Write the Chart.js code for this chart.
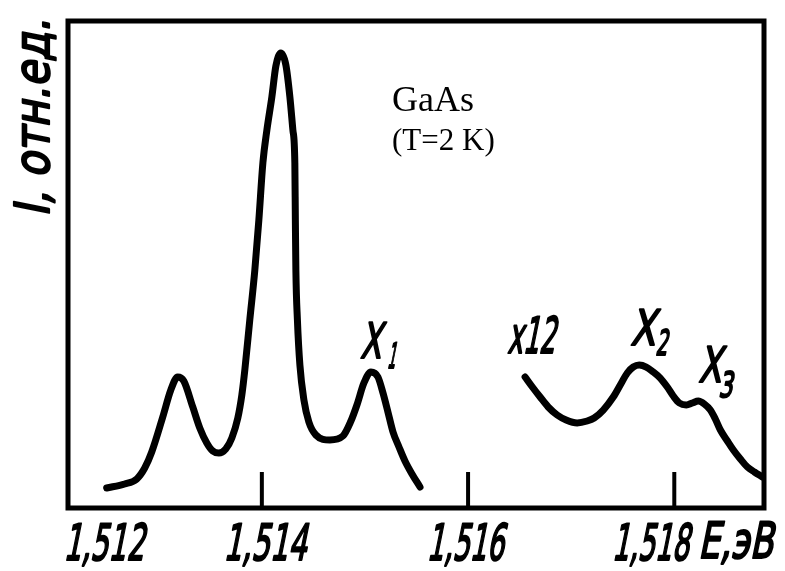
<!DOCTYPE html>
<html>
<head>
<meta charset="utf-8">
<script src="https://cdn.jsdelivr.net/npm/chart.js@4.4.1/dist/chart.umd.min.js"></script>
<style>
  html, body { margin: 0; padding: 0; background: #ffffff; }
  #wrap { width: 785px; height: 571px; position: relative; }
</style>
</head>
<body>
<div id="wrap"><canvas id="c" width="785" height="571"></canvas></div>
<script>
// ---- data (photon energy, eV ; intensity, rel. units) ----
const energyMain = [
  1.512495, 1.512670, 1.512786, 1.512864, 1.512932, 1.513039, 1.513117, 1.513184,
  1.513243, 1.513330, 1.513398, 1.513466, 1.513524, 1.513583, 1.513650, 1.513709,
  1.513767, 1.513806, 1.513835, 1.513883, 1.513932, 1.513971, 1.514010, 1.514049,
  1.514097, 1.514136, 1.514184, 1.514233, 1.514272, 1.514301, 1.514320, 1.514325,
  1.514330, 1.514345, 1.514369, 1.514408, 1.514456, 1.514524, 1.514660, 1.514786,
  1.514864, 1.514922, 1.514990, 1.515058, 1.515126, 1.515175, 1.515223, 1.515272,
  1.515330, 1.515388, 1.515456, 1.515534
];
const intensityMain = [
  4.11, 4.93, 5.95, 8.21, 11.50, 18.69, 24.23, 26.90,
  26.08, 20.74, 16.43, 13.35, 11.70, 11.29, 12.11, 14.37,
  18.48, 23.20, 28.34, 38.60, 48.87, 59.14, 70.84, 77.62,
  84.39, 90.76, 93.43, 90.97, 84.39, 77.62, 70.84, 59.14,
  48.87, 38.60, 29.36, 22.18, 17.66, 14.99, 13.96, 14.78,
  17.86, 21.15, 25.67, 27.93, 26.90, 23.61, 19.71, 15.61,
  12.53, 9.65, 6.98, 4.31
];
const energyX12 = [
  1.516553, 1.516631, 1.516699, 1.516777, 1.516864, 1.516951, 1.517058, 1.517155,
  1.517223, 1.517311, 1.517408, 1.517476, 1.517544, 1.517602, 1.517660, 1.517728,
  1.517796, 1.517864, 1.517932, 1.517990, 1.518049, 1.518117, 1.518175, 1.518233,
  1.518291, 1.518350, 1.518398, 1.518447, 1.518515, 1.518573, 1.518641, 1.518709,
  1.518777, 1.518854
];
const intensityX12 = [
  26.90, 24.64, 22.79, 20.74, 19.10, 18.07, 17.45, 17.86,
  18.48, 20.12, 22.79, 25.26, 27.72, 28.95, 29.36, 28.95,
  27.93, 26.69, 24.85, 23.00, 21.56, 21.15, 21.56, 21.97,
  21.36, 20.12, 18.28, 16.02, 13.76, 11.91, 10.06, 8.42,
  7.39, 6.37
];
const tickMarkValues = [1.514, 1.516, 1.518];
const tickLabelValues = [1.512, 1.514, 1.516, 1.518];
const tickLabels = ['1,512', '1,514', '1,516', '1,518'];
const xAxisTitle = 'E,эВ';
const yAxisTitle = 'I, отн.ед.';
const peakLabels = ['X', 'X', 'X'];
const peakSubscripts = ['1', '2', '3'];
const scaleNote = 'x12';
const titleLines = ['GaAs', '(T=2 K)'];

// ---- layout / style (not data) ----
const X_MIN = 1.51212, X_MAX = 1.51887;
const tickLabelOffsets = [48, 3, -3, -24];   // px shift of label centre from tick position
const tickLabelWidths = [81, 83, 77, 77];
const peakLabelPos = [   // data-space anchor of the X glyph's left/baseline
  { x: 1.514951, y: 30.8, sx: 21, sub: { dx: 27, dy: 10, w: 8 } },
  { x: 1.517573, y: 33.5, sx: 25, sub: { dx: 25, dy: 10, w: 12 } },
  { x: 1.518233, y: 25.9, sx: 23, sub: { dx: 20, dy: 15, w: 14 } }
];
const noteAnchor = { x: 1.516379, y: 31.8, w: 48 };

const HAND = '"DejaVu Sans", "Liberation Sans", sans-serif';
const SERIF = '"Liberation Serif", "Times New Roman", serif';

function handText(ctx, text, x, base, width, size, align) {
  ctx.save();
  ctx.font = size + 'px ' + HAND;
  const w = ctx.measureText(text).width;
  const sx = width / w;
  let left = x;
  if (align === 'center') left = x - width / 2;
  ctx.translate(left, base);
  ctx.transform(1, 0, -0.2, 1, 0, 0);
  ctx.scale(sx, 1);
  ctx.fillStyle = '#000';
  ctx.strokeStyle = '#000';
  ctx.lineWidth = 2.2;
  ctx.lineJoin = 'round';
  ctx.textAlign = 'left';
  ctx.textBaseline = 'alphabetic';
  ctx.fillText(text, 0, 0);
  ctx.strokeText(text, 0, 0);
  ctx.restore();
}

const framePlugin = {
  id: 'frame',
  afterDatasetsDraw(chart) {
    const ctx = chart.ctx;
    const a = chart.chartArea;
    const xs = chart.scales.x;
    const ys = chart.scales.y;
    ctx.save();
    ctx.strokeStyle = '#000';
    ctx.lineWidth = 5;
    ctx.lineJoin = 'miter';
    ctx.strokeRect(a.left, a.top, a.right - a.left, a.bottom - a.top);
    // inward tick marks
    ctx.lineWidth = 4;
    tickMarkValues.forEach(v => {
      const px = xs.getPixelForValue(v);
      ctx.beginPath();
      ctx.moveTo(px, a.bottom);
      ctx.lineTo(px, a.bottom - 36);
      ctx.stroke();
    });
    ctx.restore();

    // tick labels
    tickLabelValues.forEach((v, i) => {
      const px = xs.getPixelForValue(v) + tickLabelOffsets[i];
      handText(ctx, tickLabels[i], px, a.bottom + 52, tickLabelWidths[i], 50, 'center');
    });
    handText(ctx, xAxisTitle, 698, a.bottom + 50, 75, 50, 'left');

    // y-axis title (rotated)
    ctx.save();
    ctx.translate(49, 217);
    ctx.rotate(-Math.PI / 2);
    handText(ctx, yAxisTitle, 0, 0, 198, 48, 'left');
    ctx.restore();

    // peak labels
    peakLabelPos.forEach((p, i) => {
      const px = xs.getPixelForValue(p.x);
      const py = ys.getPixelForValue(p.y);
      handText(ctx, peakLabels[i], px, py, p.sx, 49, 'left');
      handText(ctx, peakSubscripts[i], px + p.sub.dx, py + p.sub.dy, p.sub.w, 35, 'left');
    });
    // x12 note
    handText(ctx, scaleNote, xs.getPixelForValue(noteAnchor.x), ys.getPixelForValue(noteAnchor.y), noteAnchor.w, 50, 'left');

    // title
    ctx.save();
    ctx.fillStyle = '#000';
    ctx.textAlign = 'left';
    ctx.textBaseline = 'alphabetic';
    ctx.font = '36px ' + SERIF;
    ctx.fillText(titleLines[0], 392, 111);
    ctx.font = '31px ' + SERIF;
    ctx.fillText(titleLines[1], 392, 150);
    ctx.restore();
  }
};

const lineStyle = {
  borderColor: '#000',
  borderWidth: 7,
  pointRadius: 0,
  fill: false,
  cubicInterpolationMode: 'monotone',
  borderCapStyle: 'round',
  borderJoinStyle: 'round',
  clip: false
};

new Chart(document.getElementById('c'), {
  type: 'line',
  data: {
    datasets: [
      Object.assign({ label: 'main', data: energyMain.map((e, i) => ({ x: e, y: intensityMain[i] })) }, lineStyle),
      Object.assign({ label: 'x12', data: energyX12.map((e, i) => ({ x: e, y: intensityX12[i] })) }, lineStyle)
    ]
  },
  options: {
    responsive: false,
    animation: false,
    events: [],
    layout: { padding: { left: 68, top: 21, right: 21, bottom: 63 } },
    plugins: { legend: { display: false }, tooltip: { enabled: false } },
    scales: {
      x: { type: 'linear', min: X_MIN, max: X_MAX, display: false },
      y: { type: 'linear', min: 0, max: 100, display: false }
    }
  },
  plugins: [framePlugin]
});
</script>
</body>
</html>
